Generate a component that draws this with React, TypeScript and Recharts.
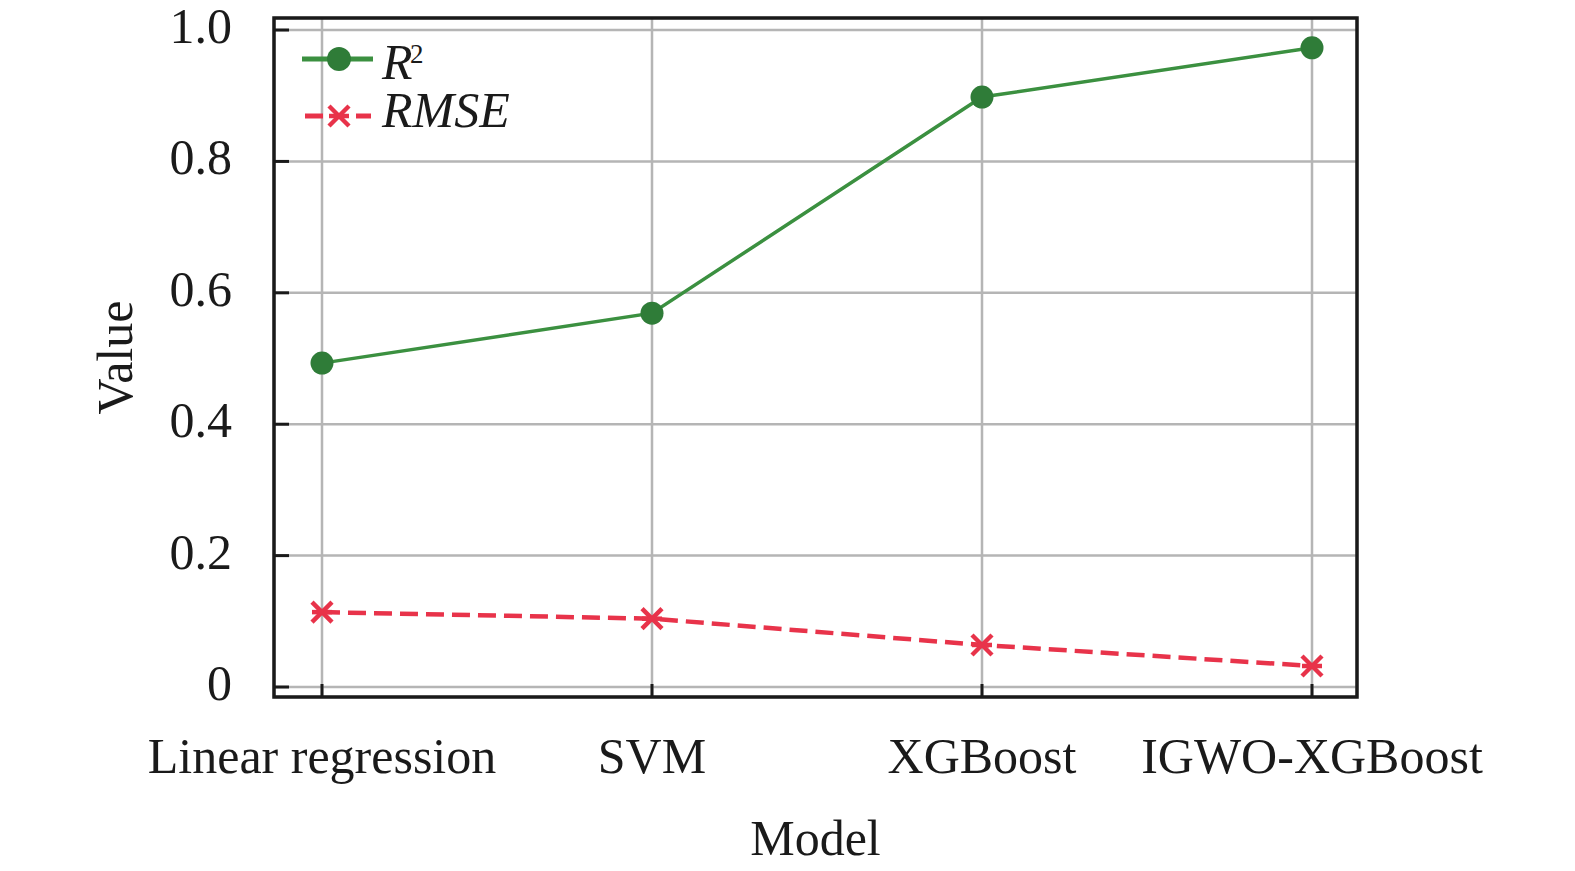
import React from 'react';
import { LineChart, Line, XAxis, YAxis, CartesianGrid } from 'recharts';

const models = ['Linear regression', 'SVM', 'XGBoost', 'IGWO-XGBoost'];
const r2Values = [0.493, 0.569, 0.898, 0.973];
const rmseValues = [0.114, 0.104, 0.064, 0.032];
const yTicks = [0, 0.2, 0.4, 0.6, 0.8, 1.0];

const data = models.map((m, i) => ({ model: m, r2: r2Values[i], rmse: rmseValues[i] }));

const GREEN = '#3b9040';
const GREEN_DOT = '#2f7c38';
const RED = '#e8334a';
const INK = '#1a1a1a';
const FONT = '"Liberation Serif", "Times New Roman", serif';

const PLOT = { left: 274, top: 18, right: 1357, bottom: 697 };

const StarDot = (props: any) => {
  const { cx, cy } = props;
  if (cx == null || cy == null) return null;
  const s = 10;
  return (
    <g stroke={RED} strokeWidth={4.5} fill="none">
      <line x1={cx - s} y1={cy - s} x2={cx + s} y2={cy + s} />
      <line x1={cx - s} y1={cy + s} x2={cx + s} y2={cy - s} />
      <line x1={cx - s} y1={cy} x2={cx + s} y2={cy} />
    </g>
  );
};

const YTick = (props: any) => {
  const { y, payload } = props;
  const v = payload.value;
  const label = v === 0 ? '0' : v.toFixed(1);
  return (
    <g>
      <line x1={PLOT.left} x2={PLOT.left + 15} y1={y} y2={y} stroke={INK} strokeWidth={3} />
      <text x={232} y={y} dy={13} textAnchor="end" fontFamily={FONT} fontSize={50} fill={INK}>
        {label}
      </text>
    </g>
  );
};

const XTick = (props: any) => {
  const { x, payload } = props;
  return (
    <g>
      <line x1={x} x2={x} y1={PLOT.bottom} y2={PLOT.bottom - 13} stroke={INK} strokeWidth={3} />
      <text x={x} y={773} textAnchor="middle" fontFamily={FONT} fontSize={50} fill={INK}>
        {payload.value}
      </text>
    </g>
  );
};

const XLabel = (props: any) => {
  const vb = props.viewBox || {};
  return (
    <text x={vb.x + vb.width / 2} y={855} textAnchor="middle" fontFamily={FONT} fontSize={50} fill={INK}>
      Model
    </text>
  );
};

const YLabel = (props: any) => {
  const vb = props.viewBox || {};
  const cx = 132;
  const cy = vb.y + vb.height / 2;
  return (
    <text x={cx} y={cy} transform={`rotate(-90 ${cx} ${cy})`} textAnchor="middle" fontFamily={FONT} fontSize={50} fill={INK}>
      Value
    </text>
  );
};

const Overlay = () => (
  <svg width={1575} height={871} style={{ position: 'absolute', left: 0, top: 0, pointerEvents: 'none' }}>
    <rect
      x={PLOT.left}
      y={PLOT.top}
      width={PLOT.right - PLOT.left}
      height={PLOT.bottom - PLOT.top}
      fill="none"
      stroke={INK}
      strokeWidth={3.5}
    />
    <line x1={302} x2={373} y1={59} y2={59} stroke={GREEN} strokeWidth={5} />
    <circle cx={339} cy={59} r={12} fill={GREEN_DOT} />
    <text x={382} y={79} fontFamily={FONT} fontSize={50} fill={INK}>
      <tspan fontStyle="italic">R</tspan>
    </text>
    <text x={410} y={63} fontFamily={FONT} fontSize={27} fill={INK}>
      2
    </text>
    <line x1={305} x2={323} y1={116} y2={116} stroke={RED} strokeWidth={5} />
    <line x1={356} x2={371} y1={116} y2={116} stroke={RED} strokeWidth={5} />
    <StarDot cx={339} cy={116} />
    <text x={382} y={127} fontFamily={FONT} fontSize={50} fontStyle="italic" fill={INK}>
      RMSE
    </text>
  </svg>
);

export default function App() {
  return (
    <div style={{ position: 'absolute', left: 0, top: 0, width: 1575, height: 871, background: '#fff' }}>
      <LineChart
        width={1575}
        height={871}
        data={data}
        margin={{ top: PLOT.top, right: 1575 - PLOT.right, bottom: 0, left: 0 }}
      >
        <CartesianGrid stroke="#b5b5b5" strokeWidth={2.5} />
        <XAxis
          dataKey="model"
          height={871 - PLOT.bottom}
          padding={{ left: 48, right: 45 }}
          axisLine={false}
          tickLine={false}
          tick={<XTick />}
          interval={0}
          label={<XLabel />}
        />
        <YAxis
          width={PLOT.left}
          domain={[-0.0152, 1.0183]}
          ticks={yTicks}
          axisLine={false}
          tickLine={false}
          tick={<YTick />}
          allowDataOverflow
          label={<YLabel />}
        />
        <Line
          dataKey="r2"
          stroke={GREEN}
          strokeWidth={3.5}
          dot={{ r: 11.5, fill: GREEN_DOT, stroke: GREEN_DOT, strokeWidth: 0 }}
          isAnimationActive={false}
        />
        <Line
          dataKey="rmse"
          stroke={RED}
          strokeWidth={4.5}
          strokeDasharray="18 8"
          dot={<StarDot />}
          isAnimationActive={false}
        />
      </LineChart>
      <Overlay />
    </div>
  );
}
